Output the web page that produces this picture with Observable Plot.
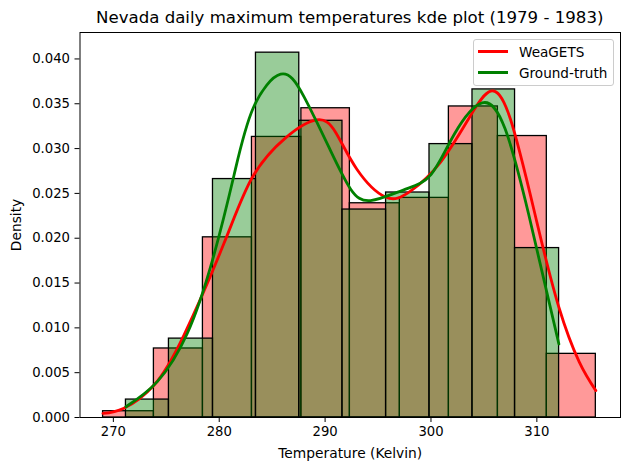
<!DOCTYPE html>
<html>
<head>
<meta charset="utf-8">
<script src="https://cdn.jsdelivr.net/npm/d3@7"></script>
<script src="https://cdn.jsdelivr.net/npm/@observablehq/plot@0.6"></script>
<style>
  body { margin: 0; background: white; font-family: "DejaVu Sans", sans-serif; }
  #wrap { position: relative; width: 630px; height: 470px; }
  #title { position: absolute; left: 79.5px; width: 540.5px; top: 8px; text-align: center; font-size: 16.6px; color: black; white-space: nowrap; }
  #legend { position: absolute; left: 473px; top: 39px; width: 139px; height: 45px; border: 1px solid #ccc; border-radius: 3px; background: rgba(255,255,255,.8); font-size: 13.6px; }
  #legend div { position: absolute; left: 45px; white-space: nowrap; line-height: 16px; color: black; }
  #legend span { position: absolute; left: 4px; width: 30px; height: 3px; }
  g[aria-label$="tick label"] { font-size: 13.2px; }
</style>
</head>
<body>
<div id="wrap">
  <div id="chart"></div>
  <div id="title">Nevada daily maximum temperatures kde plot (1979 - 1983)</div>
  <div id="legend">
    <span style="top:10px;background:red"></span><div style="top:4px">WeaGETS</div>
    <span style="top:31px;background:green"></span><div style="top:25px">Ground-truth</div>
  </div>
</div>
<script>
/* bin edges and heights */
const redEdges = [269.03, 273.83, 278.46, 283.09, 287.76, 292.34, 297.06, 301.69, 306.32, 310.94, 315.57]
const redHeights = [0.0007, 0.0077, 0.0201, 0.0313, 0.0345, 0.0239, 0.0245, 0.0347, 0.0314, 0.0071]
const greenEdges = [271.19, 275.25, 279.41, 283.47, 287.56, 291.64, 295.76, 299.86, 303.92, 307.94, 312.1]
const greenHeights = [0.002, 0.0088, 0.0266, 0.0407, 0.0331, 0.0232, 0.0251, 0.0305, 0.0366, 0.0189]

/* kde curves, only the key points, the spline does the rest */
const redKdeX = [269.02, 271, 273.83, 276.67, 280.44, 283.13, 286.27, 289.2, 291, 293, 295.7, 298, 300.91, 303.74, 305.63, 307.5, 310, 312.08, 314, 315.57]
const redKdeY = [0.00045, 0.00104, 0.0036, 0.0092, 0.0194, 0.0268, 0.0312, 0.0332, 0.0318, 0.0277, 0.0246, 0.0252, 0.0285, 0.0337, 0.0364, 0.0333, 0.0218, 0.0123, 0.0062, 0.003]
const greenKdeX = [271.19, 274.15, 276.99, 279.35, 281.39, 283.2, 285.8, 288, 290.5, 292.4, 294.3, 297.44, 300, 302.2, 304.84, 307, 309.22, 312.08]
const greenKdeY = [0.0012, 0.004, 0.0094, 0.0175, 0.027, 0.0345, 0.0383, 0.0358, 0.0298, 0.0255, 0.0242, 0.0254, 0.0271, 0.0316, 0.0351, 0.0322, 0.0227, 0.0082]

const xTicks = [270, 280, 290, 300, 310]
const yTicks = [0, 0.005, 0.01, 0.015, 0.02, 0.025, 0.03, 0.035, 0.04]

const toBars = (edges, heights) => heights.map((h, i) => ({x1: edges[i], x2: edges[i + 1], y: h}))
const toLine = (xs, ys) => xs.map((x, i) => ({x, y: ys[i]}))

const barStyle = {x1: 'x1', x2: 'x2', y1: 0, y2: 'y', fillOpacity: 0.4, stroke: 'black', strokeWidth: 1.3, inset: 0}
const lineStyle = {x: 'x', y: 'y', strokeWidth: 2.8, curve: 'natural'}

const chart = Plot.plot({
  width: 630,
  height: 470,
  marginLeft: 79.5,
  marginRight: 10,
  marginTop: 32,
  marginBottom: 53,
  style: {fontFamily: '"DejaVu Sans", sans-serif', fontSize: '13.8px', color: 'black', background: 'white'},
  x: {domain: [266.85, 317.9]},
  y: {domain: [0, 0.04295]},
  marks: [
    Plot.rectY(toBars(redEdges, redHeights), {...barStyle, fill: 'red'}),
    Plot.rectY(toBars(greenEdges, greenHeights), {...barStyle, fill: 'green'}),
    Plot.line(toLine(redKdeX, redKdeY), {...lineStyle, stroke: 'red'}),
    Plot.line(toLine(greenKdeX, greenKdeY), {...lineStyle, stroke: 'green'}),
    Plot.frame({stroke: 'black', strokeWidth: 1}),
    Plot.axisX({
      ticks: xTicks,
      tickSize: 5,
      tickPadding: 4,
      tickFormat: d => String(d),
      label: 'Temperature (Kelvin)',
      labelAnchor: 'center',
      labelArrow: 'none',
      labelOffset: 40
    }),
    Plot.axisY({
      ticks: yTicks,
      tickSize: 5,
      tickPadding: 5,
      tickFormat: d3.format('.3f'),
      label: 'Density',
      labelAnchor: 'center',
      labelArrow: 'none',
      labelOffset: 69
    })
  ]
})

d3.select('#chart').append(() => chart)
</script>
</body>
</html>
